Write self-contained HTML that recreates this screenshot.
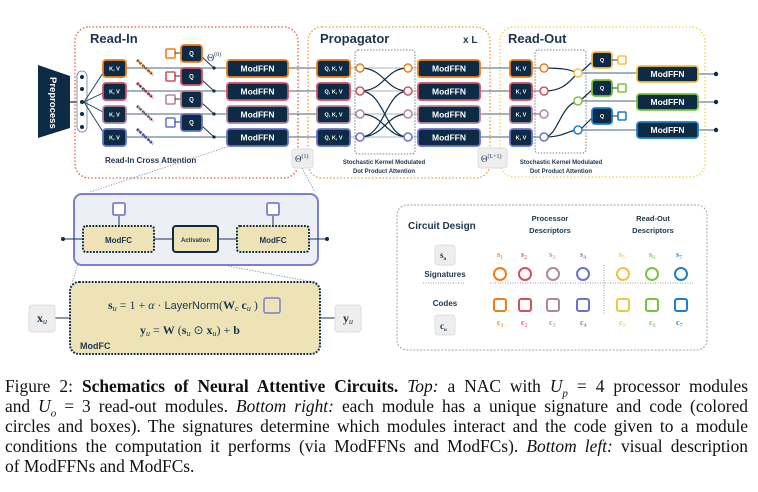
<!DOCTYPE html>
<html><head><meta charset="utf-8"><style>
body{margin:0;width:758px;height:492px;background:#fff;overflow:hidden;position:relative}
svg{position:absolute;left:0;top:0}
.cap{position:absolute;left:5px;top:376px;width:743px;font-family:"Liberation Serif",serif;font-size:17.4px;line-height:20px;color:#111}
.cap div{text-align:justify;text-align-last:justify;height:20px;white-space:normal}
.cap div.l{text-align:left;text-align-last:left}
.t{font-family:"Liberation Sans",sans-serif;font-weight:bold;fill:#1c3550}
.w{font-family:"Liberation Sans",sans-serif;font-weight:bold;fill:#fff}
.s{font-family:"Liberation Serif",serif}
</style></head><body>
<svg width="758" height="492" viewBox="0 0 758 492">
<rect x="75" y="27" width="223" height="151" rx="14" fill="none" stroke="#e8584a" stroke-width="1.3" stroke-dasharray="1.5 2"/>
<rect x="308" y="27" width="182" height="151" rx="14" fill="none" stroke="#f39a2a" stroke-width="1.3" stroke-dasharray="1.5 2"/>
<rect x="500" y="27" width="205" height="150" rx="14" fill="none" stroke="#f3d04a" stroke-width="1.3" stroke-dasharray="1.5 2"/>
<text x="90" y="43" class="t" font-size="13">Read-In</text>
<text x="320" y="43" class="t" font-size="13">Propagator</text>
<text x="463" y="43" class="t" font-size="10" fill="#111">x L</text>
<text x="508" y="43" class="t" font-size="13">Read-Out</text>
<polygon points="38,65 70,76 70,128 38,138" fill="#0d2b45"/>
<text transform="translate(50,77) rotate(90)" class="w" font-size="9.5" font-weight="normal">Preprocess</text>
<line x1="70" y1="102" x2="82" y2="102" stroke="#0d2b45" stroke-width="1.2"/>
<rect x="77" y="71" width="10" height="61" rx="5" fill="#fff" stroke="#6b7f92" stroke-width="0.8"/>
<g fill="#0d2b45"><circle cx="82" cy="77" r="2"/><circle cx="82" cy="89" r="2"/><circle cx="82" cy="102" r="2"/><circle cx="82" cy="114" r="2"/><circle cx="82" cy="127" r="2"/></g>
<g stroke="#1c3550" stroke-width="0.9" fill="none">
<path d="M84,102 L105,70"/><path d="M84,102 L105,92"/><path d="M84,102 L105,113"/><path d="M84,102 L105,135"/>
</g>
<g stroke="#6d8396" stroke-width="1.2">
<line x1="126" y1="68" x2="227" y2="68"/><line x1="126" y1="91" x2="227" y2="91"/><line x1="126" y1="114" x2="227" y2="114"/><line x1="126" y1="137" x2="227" y2="137"/>
<line x1="288" y1="68" x2="317" y2="68"/><line x1="288" y1="91" x2="317" y2="91"/><line x1="288" y1="114" x2="317" y2="114"/><line x1="288" y1="137" x2="317" y2="137"/>
<line x1="350" y1="68" x2="418" y2="68" stroke="#b8c3cc"/><line x1="350" y1="91" x2="418" y2="91" stroke="#b8c3cc"/><line x1="350" y1="114" x2="418" y2="114" stroke="#b8c3cc"/><line x1="350" y1="137" x2="418" y2="137" stroke="#b8c3cc"/>
<line x1="480" y1="68" x2="510" y2="68"/><line x1="480" y1="91" x2="510" y2="91"/><line x1="480" y1="114" x2="510" y2="114"/><line x1="480" y1="137" x2="510" y2="137"/>
<line x1="532" y1="68" x2="544" y2="68"/><line x1="532" y1="91" x2="544" y2="91"/><line x1="532" y1="114" x2="544" y2="114"/><line x1="532" y1="137" x2="544" y2="137"/>
<line x1="578" y1="73" x2="637" y2="73"/><line x1="578" y1="101" x2="637" y2="101"/><line x1="578" y1="130" x2="637" y2="130"/>
<line x1="698" y1="74" x2="716" y2="74"/><line x1="698" y1="102" x2="716" y2="102"/><line x1="698" y1="130" x2="716" y2="130"/>
</g>
<g fill="#0d2b45"><circle cx="716" cy="74" r="2.2"/><circle cx="716" cy="102" r="2.2"/><circle cx="716" cy="130" r="2.2"/></g>
<g stroke-width="1.8">
<rect x="103" y="60" width="23" height="17" rx="3" fill="#0d2b45" stroke="#f07d1a"/>
<rect x="103" y="83" width="23" height="17" rx="3" fill="#0d2b45" stroke="#d5505e"/>
<rect x="103" y="106" width="23" height="17" rx="3" fill="#0d2b45" stroke="#b0879a"/>
<rect x="103" y="129" width="23" height="17" rx="3" fill="#0d2b45" stroke="#6a72c9"/>
</g>
<g class="w" font-size="5.5" text-anchor="middle"><text x="114.5" y="70.5">K, V</text><text x="114.5" y="93.5">K, V</text><text x="114.5" y="116.5">K, V</text><text x="114.5" y="139.5">K, V</text></g>
<g stroke-width="3" stroke-dasharray="2.4 1.2">
<line x1="137" y1="60" x2="153" y2="75" stroke="#f07d1a"/>
<line x1="137" y1="83" x2="153" y2="98" stroke="#d5505e"/>
<line x1="137" y1="106" x2="153" y2="121" stroke="#b0879a"/>
<line x1="137" y1="129" x2="153" y2="144" stroke="#6a72c9"/>
</g>
<g stroke="#0d2b45" stroke-width="1.2" stroke-dasharray="1.2 1.2"><line x1="137" y1="60" x2="153" y2="75"/><line x1="137" y1="83" x2="153" y2="98"/><line x1="137" y1="106" x2="153" y2="121"/><line x1="137" y1="129" x2="153" y2="144"/></g>
<g stroke-width="1.6" fill="#fff"><rect x="166" y="49" width="9" height="9" rx="1" stroke="#f07d1a"/><rect x="166" y="72" width="9" height="9" rx="1" stroke="#d5505e"/><rect x="166" y="95" width="9" height="9" rx="1" stroke="#b0879a"/><rect x="166" y="118" width="9" height="9" rx="1" stroke="#6a72c9"/></g>
<g stroke="#1c3550" stroke-width="1"><line x1="175" y1="53" x2="181" y2="53"/><line x1="175" y1="76" x2="181" y2="76"/><line x1="175" y1="99" x2="181" y2="99"/><line x1="175" y1="122" x2="181" y2="122"/>
<path d="M202,57 L214,68 M202,80 L214,91 M202,103 L214,114 M202,126 L214,137" fill="none"/></g>
<g fill="#0d2b45"><circle cx="214" cy="68" r="1.6"/><circle cx="214" cy="91" r="1.6"/><circle cx="214" cy="114" r="1.6"/><circle cx="214" cy="137" r="1.6"/></g>
<g stroke-width="1.8"><rect x="181" y="45" width="21" height="17" rx="3" fill="#0d2b45" stroke="#f07d1a"/><rect x="181" y="68" width="21" height="17" rx="3" fill="#0d2b45" stroke="#d5505e"/><rect x="181" y="91" width="21" height="17" rx="3" fill="#0d2b45" stroke="#b0879a"/><rect x="181" y="114" width="21" height="17" rx="3" fill="#0d2b45" stroke="#6a72c9"/></g>
<g class="w" font-size="6" text-anchor="middle"><text x="191.5" y="55.5">Q</text><text x="191.5" y="78.5">Q</text><text x="191.5" y="101.5">Q</text><text x="191.5" y="124.5">Q</text></g>
<text x="207" y="61" class="s" font-size="10" fill="#1c3550">Θ<tspan font-size="6" dy="-5">(0)</tspan></text>
<g stroke-width="1.8"><rect x="227" y="60" width="61" height="17" rx="3" fill="#0d2b45" stroke="#f07d1a"/><rect x="227" y="83" width="61" height="17" rx="3" fill="#0d2b45" stroke="#d5505e"/><rect x="227" y="106" width="61" height="17" rx="3" fill="#0d2b45" stroke="#b0879a"/><rect x="227" y="129" width="61" height="17" rx="3" fill="#0d2b45" stroke="#6a72c9"/></g>
<g class="w" font-size="8.5" font-weight="normal" text-anchor="middle"><text x="257.5" y="71.5">ModFFN</text><text x="257.5" y="94.5">ModFFN</text><text x="257.5" y="117.5">ModFFN</text><text x="257.5" y="140.5">ModFFN</text></g>
<text x="105" y="163" class="t" font-size="8">Read-In Cross Attention</text>
<rect x="292" y="149" width="21" height="19" rx="3" fill="#eeeeee" stroke="#ddd"/>
<text x="295" y="162" class="s" font-size="9" fill="#1c3550">Θ<tspan font-size="6" dy="-4">(1)</tspan></text>
<rect x="355" y="50" width="60" height="104" rx="3" fill="none" stroke="#50606e" stroke-width="0.8" stroke-dasharray="1.5 1.5"/>
<g stroke-width="1.8"><rect x="317" y="60" width="33" height="17" rx="3" fill="#0d2b45" stroke="#f07d1a"/><rect x="317" y="83" width="33" height="17" rx="3" fill="#0d2b45" stroke="#d5505e"/><rect x="317" y="106" width="33" height="17" rx="3" fill="#0d2b45" stroke="#b0879a"/><rect x="317" y="129" width="33" height="17" rx="3" fill="#0d2b45" stroke="#6a72c9"/></g>
<g class="w" font-size="5.5" text-anchor="middle"><text x="333.5" y="70.5">Q, K, V</text><text x="333.5" y="93.5">Q, K, V</text><text x="333.5" y="116.5">Q, K, V</text><text x="333.5" y="139.5">Q, K, V</text></g>
<g stroke="#0d2b45" stroke-width="1.2" fill="none">
<path d="M360,68 C385,68 385,91 408,91"/><path d="M360,91 C385,91 385,68 408,68"/>
<path d="M360,91 C385,91 385,137 408,137"/><path d="M360,137 C385,137 385,91 408,91"/>
<path d="M360,114 C385,114 385,137 408,137"/><path d="M360,137 C385,137 385,114 408,114"/>
</g>
<g fill="#fff" stroke-width="1.5">
<circle cx="360" cy="68" r="4" stroke="#f07d1a"/><circle cx="360" cy="91" r="4" stroke="#d5505e"/><circle cx="360" cy="114" r="4" stroke="#b0879a"/><circle cx="360" cy="137" r="4" stroke="#6a72c9"/>
<circle cx="408" cy="68" r="4" stroke="#f07d1a"/><circle cx="408" cy="91" r="4" stroke="#d5505e"/><circle cx="408" cy="114" r="4" stroke="#b0879a"/><circle cx="408" cy="137" r="4" stroke="#6a72c9"/>
</g>
<g stroke-width="1.8"><rect x="418" y="60" width="62" height="17" rx="3" fill="#0d2b45" stroke="#f07d1a"/><rect x="418" y="83" width="62" height="17" rx="3" fill="#0d2b45" stroke="#d5505e"/><rect x="418" y="106" width="62" height="17" rx="3" fill="#0d2b45" stroke="#b0879a"/><rect x="418" y="129" width="62" height="17" rx="3" fill="#0d2b45" stroke="#6a72c9"/></g>
<g class="w" font-size="8.5" font-weight="normal" text-anchor="middle"><text x="449" y="71.5">ModFFN</text><text x="449" y="94.5">ModFFN</text><text x="449" y="117.5">ModFFN</text><text x="449" y="140.5">ModFFN</text></g>
<g class="t" font-size="6" text-anchor="middle" fill="#1e5f95"><text x="384" y="164">Stochastic Kernel Modulated</text><text x="384" y="173">Dot Product Attention</text></g>
<rect x="478" y="148" width="29" height="20" rx="3" fill="#eeeeee" stroke="#ddd"/>
<text x="481" y="162" class="s" font-size="9" fill="#1c3550">Θ<tspan font-size="6" dy="-4">(L+1)</tspan></text>
<rect x="535" y="50" width="51" height="103" rx="3" fill="none" stroke="#50606e" stroke-width="0.8" stroke-dasharray="1.5 1.5"/>
<g stroke-width="1.8"><rect x="510" y="60" width="22" height="17" rx="3" fill="#0d2b45" stroke="#f07d1a"/><rect x="510" y="83" width="22" height="17" rx="3" fill="#0d2b45" stroke="#d5505e"/><rect x="510" y="106" width="22" height="17" rx="3" fill="#0d2b45" stroke="#b0879a"/><rect x="510" y="129" width="22" height="17" rx="3" fill="#0d2b45" stroke="#6a72c9"/></g>
<g class="w" font-size="5.5" text-anchor="middle"><text x="521" y="70.5">K, V</text><text x="521" y="93.5">K, V</text><text x="521" y="116.5">K, V</text><text x="521" y="139.5">K, V</text></g>
<g stroke="#0d2b45" stroke-width="1.2" fill="none">
<path d="M544,68 C565,68 570,70 578,73"/><path d="M544,91 C565,91 570,80 578,73"/>
<path d="M544,137 C558,137 560,105 578,101"/><path d="M544,137 C565,137 568,130 578,130"/>
<path d="M592,62 L582,71 M592,90 L582,99 M592,118 L582,128"/>
</g>
<g fill="#fff" stroke-width="1.5">
<circle cx="544" cy="68" r="4" stroke="#f07d1a"/><circle cx="544" cy="91" r="4" stroke="#d5505e"/><circle cx="544" cy="114" r="4" stroke="#b0879a"/><circle cx="544" cy="137" r="4" stroke="#6a72c9"/>
<circle cx="578" cy="73" r="4" stroke="#f5c143"/><circle cx="578" cy="101" r="4" stroke="#7cc23a"/><circle cx="578" cy="130" r="4" stroke="#1f7fc4"/>
</g>
<g stroke-width="1.8"><rect x="592" y="52" width="20" height="16" rx="3" fill="#0d2b45" stroke="#f5c143"/><rect x="592" y="80" width="20" height="16" rx="3" fill="#0d2b45" stroke="#7cc23a"/><rect x="592" y="108" width="20" height="16" rx="3" fill="#0d2b45" stroke="#1f7fc4"/></g>
<g class="w" font-size="5.5" text-anchor="middle"><text x="602" y="62">Q</text><text x="602" y="90">Q</text><text x="602" y="118">Q</text></g>
<g stroke="#1c3550" stroke-width="1"><line x1="612" y1="60" x2="618" y2="60"/><line x1="612" y1="88" x2="618" y2="88"/><line x1="612" y1="116" x2="618" y2="116"/></g>
<g stroke-width="1.6" fill="#fff"><rect x="618" y="56" width="8" height="8" rx="1" stroke="#f5c143"/><rect x="618" y="84" width="8" height="8" rx="1" stroke="#7cc23a"/><rect x="618" y="112" width="8" height="8" rx="1" stroke="#1f7fc4"/></g>
<g stroke-width="1.8"><rect x="637" y="66" width="61" height="16" rx="3" fill="#0d2b45" stroke="#f5c143"/><rect x="637" y="94" width="61" height="16" rx="3" fill="#0d2b45" stroke="#7cc23a"/><rect x="637" y="122" width="61" height="16" rx="3" fill="#0d2b45" stroke="#1f7fc4"/></g>
<g class="w" font-size="8.5" font-weight="normal" text-anchor="middle"><text x="667.5" y="77">ModFFN</text><text x="667.5" y="105">ModFFN</text><text x="667.5" y="133">ModFFN</text></g>
<g class="t" font-size="6" text-anchor="middle" fill="#1e5f95"><text x="561" y="164">Stochastic Kernel Modulated</text><text x="561" y="173">Dot Product Attention</text></g>
<g stroke="#6d7f92" stroke-width="0.8" stroke-dasharray="1.2 1.5" fill="none">
<line x1="230" y1="146" x2="90" y2="192"/><line x1="302" y1="168" x2="315" y2="192"/>
<line x1="82" y1="252" x2="72" y2="283"/><line x1="154" y1="252" x2="318" y2="283"/>
</g>
<rect x="74" y="194" width="244" height="71" rx="8" fill="#eceff3" stroke="#7b7fd0" stroke-width="2"/>
<g stroke="#1c3550" stroke-width="1"><line x1="63" y1="239" x2="83" y2="239"/><line x1="154" y1="239" x2="173" y2="239"/><line x1="218" y1="239" x2="237" y2="239"/><line x1="309" y1="239" x2="327" y2="239"/><line x1="119" y1="216" x2="119" y2="226"/><line x1="273" y1="216" x2="273" y2="226"/></g>
<circle cx="63" cy="239" r="2" fill="#0d2b45"/><circle cx="327" cy="239" r="2" fill="#0d2b45"/>
<g stroke="#7b7fd0" stroke-width="1.8" fill="#fff"><rect x="113" y="203" width="12" height="12" rx="1.5"/><rect x="267" y="203" width="12" height="12" rx="1.5"/></g>
<g fill="#ede3b6" stroke="#0d2b45" stroke-width="2" stroke-dasharray="1.8 1.4"><rect x="83" y="226" width="71" height="26" rx="3"/><rect x="237" y="226" width="72" height="26" rx="3"/></g>
<rect x="173" y="226" width="45" height="26" rx="3" fill="#ede3b6" stroke="#0d2b45" stroke-width="2"/>
<g class="t" text-anchor="middle"><text x="118.5" y="243" font-size="8">ModFC</text><text x="273" y="243" font-size="8">ModFC</text><text x="195.5" y="242" font-size="6">Activation</text></g>
<g stroke="#1c3550" stroke-width="1"><line x1="55" y1="318" x2="71" y2="318"/><line x1="319" y1="318" x2="335" y2="318"/></g>
<rect x="70" y="282" width="250" height="72" rx="9" fill="#ede3b6" stroke="#0d2b45" stroke-width="2" stroke-dasharray="1.8 1.4"/>
<rect x="29" y="305" width="26" height="27" rx="3" fill="#eeeeee" stroke="#ddd"/>
<rect x="335" y="305" width="26" height="27" rx="3" fill="#eeeeee" stroke="#ddd"/>
<text x="37" y="322" class="s" font-size="12" font-weight="bold" fill="#1c3550">x<tspan font-size="8" font-style="italic" font-weight="normal" dy="2">u</tspan></text>
<text x="343" y="322" class="s" font-size="12" font-weight="bold" fill="#1c3550">y<tspan font-size="8" font-style="italic" font-weight="normal" dy="2">u</tspan></text>
<text x="108" y="309" class="s" font-size="12" fill="#1c3550"><tspan font-weight="bold">s</tspan><tspan font-size="8" font-style="italic" dy="2">u</tspan><tspan dy="-2"> = 1 + </tspan><tspan font-style="italic">α</tspan> · <tspan font-family="Liberation Sans" font-size="11">LayerNorm</tspan>(<tspan font-weight="bold">W</tspan><tspan font-size="8" font-style="italic" dy="2">c</tspan><tspan dy="-2">  </tspan><tspan font-weight="bold">c</tspan><tspan font-size="8" font-style="italic" dy="2">u</tspan><tspan dy="-2">  )</tspan></text>
<rect x="264" y="298" width="16" height="15" rx="2" fill="none" stroke="#7b7fd0" stroke-width="1.5"/>
<text x="140" y="334" class="s" font-size="12" fill="#1c3550"><tspan font-weight="bold">y</tspan><tspan font-size="8" font-style="italic" dy="2">u</tspan><tspan dy="-2"> = </tspan><tspan font-weight="bold">W</tspan> (<tspan font-weight="bold">s</tspan><tspan font-size="8" font-style="italic" dy="2">u</tspan><tspan dy="-2"> ⊙ </tspan><tspan font-weight="bold">x</tspan><tspan font-size="8" font-style="italic" dy="2">u</tspan><tspan dy="-2">) + </tspan><tspan font-weight="bold">b</tspan></text>
<text x="80" y="349" class="t" font-size="9">ModFC</text>
<rect x="397" y="205" width="310" height="145" rx="10" fill="#fff" stroke="#9aa4ad" stroke-width="1" stroke-dasharray="2 1.5"/>
<text x="408" y="229" class="t" font-size="10">Circuit Design</text>
<g class="t" font-size="7.5" text-anchor="middle"><text x="550" y="221">Processor</text><text x="550" y="233">Descriptors</text><text x="653" y="221">Read-Out</text><text x="653" y="233">Descriptors</text>
<text x="445" y="277" font-size="8">Signatures</text><text x="445" y="306" font-size="8">Codes</text></g>
<rect x="435" y="245" width="20" height="20" rx="3" fill="#eeeeee" stroke="#ddd"/>
<rect x="435" y="315" width="20" height="20" rx="3" fill="#eeeeee" stroke="#ddd"/>
<text x="440" y="258" class="s" font-size="9" font-weight="bold" fill="#1c3550">s<tspan font-size="5" dy="2">u</tspan></text>
<text x="440" y="329" class="s" font-size="9" font-weight="bold" fill="#1c3550">c<tspan font-size="5" dy="2">u</tspan></text>
<g stroke="#6d7f92" stroke-width="0.8" stroke-dasharray="1 1.5"><line x1="423" y1="283" x2="465" y2="283"/><line x1="490" y1="283" x2="693" y2="283"/><line x1="604" y1="265" x2="604" y2="314"/></g>
<g class="s" font-size="8" font-weight="bold">
<text x="497" y="257" fill="#f07d1a">s<tspan font-size="6" font-weight="normal" dy="2">1</tspan></text>
<text x="521" y="257" fill="#d5505e">s<tspan font-size="6" font-weight="normal" dy="2">2</tspan></text>
<text x="549" y="257" fill="#b0879a">s<tspan font-size="6" font-weight="normal" dy="2">3</tspan></text>
<text x="580" y="257" fill="#6a72c9">s<tspan font-size="6" font-weight="normal" dy="2">4</tspan></text>
<text x="619" y="257" fill="#f5c143">s<tspan font-size="6" font-weight="normal" dy="2">5</tspan></text>
<text x="649" y="257" fill="#7cc23a">s<tspan font-size="6" font-weight="normal" dy="2">6</tspan></text>
<text x="676" y="257" fill="#1f7fc4">s<tspan font-size="6" font-weight="normal" dy="2">7</tspan></text>
<text x="497" y="325" fill="#f07d1a">c<tspan font-size="6" font-weight="normal" dy="2">1</tspan></text>
<text x="521" y="325" fill="#d5505e">c<tspan font-size="6" font-weight="normal" dy="2">2</tspan></text>
<text x="549" y="325" fill="#b0879a">c<tspan font-size="6" font-weight="normal" dy="2">3</tspan></text>
<text x="580" y="325" fill="#6a72c9">c<tspan font-size="6" font-weight="normal" dy="2">4</tspan></text>
<text x="619" y="325" fill="#f5c143">c<tspan font-size="6" font-weight="normal" dy="2">5</tspan></text>
<text x="649" y="325" fill="#7cc23a">c<tspan font-size="6" font-weight="normal" dy="2">6</tspan></text>
<text x="676" y="325" fill="#1f7fc4">c<tspan font-size="6" font-weight="normal" dy="2">7</tspan></text>
</g>
<g fill="none" stroke-width="2">
<circle cx="500" cy="274" r="6" stroke="#f07d1a"/><circle cx="525" cy="274" r="6" stroke="#d5505e"/><circle cx="553" cy="274" r="6" stroke="#b0879a"/><circle cx="583" cy="274" r="6" stroke="#6a72c9"/>
<circle cx="623" cy="274" r="6" stroke="#f5c143"/><circle cx="652" cy="274" r="6" stroke="#7cc23a"/><circle cx="681" cy="274" r="6" stroke="#1f7fc4"/>
<rect x="494" y="299" width="12" height="12" rx="2" stroke="#f07d1a"/><rect x="519" y="299" width="12" height="12" rx="2" stroke="#d5505e"/><rect x="547" y="299" width="12" height="12" rx="2" stroke="#b0879a"/><rect x="577" y="299" width="12" height="12" rx="2" stroke="#6a72c9"/>
<rect x="617" y="299" width="12" height="12" rx="2" stroke="#f5c143"/><rect x="646" y="299" width="12" height="12" rx="2" stroke="#7cc23a"/><rect x="675" y="299" width="12" height="12" rx="2" stroke="#1f7fc4"/>
</g>
</svg>
<div class="cap">
<div>Figure 2: <b>Schematics of Neural Attentive Circuits.</b> <i>Top:</i> a NAC with <i>U</i><sub style="font-size:11px;line-height:0"><i>p</i></sub> = 4 processor modules</div>
<div>and <i>U</i><sub style="font-size:11px;line-height:0"><i>o</i></sub> = 3 read-out modules. <i>Bottom right:</i> each module has a unique signature and code (colored</div>
<div>circles and boxes). The signatures determine which modules interact and the code given to a module</div>
<div>conditions the computation it performs (via ModFFNs and ModFCs). <i>Bottom left:</i> visual description</div>
<div class="l">of ModFFNs and ModFCs.</div>
</div>
</body></html>
